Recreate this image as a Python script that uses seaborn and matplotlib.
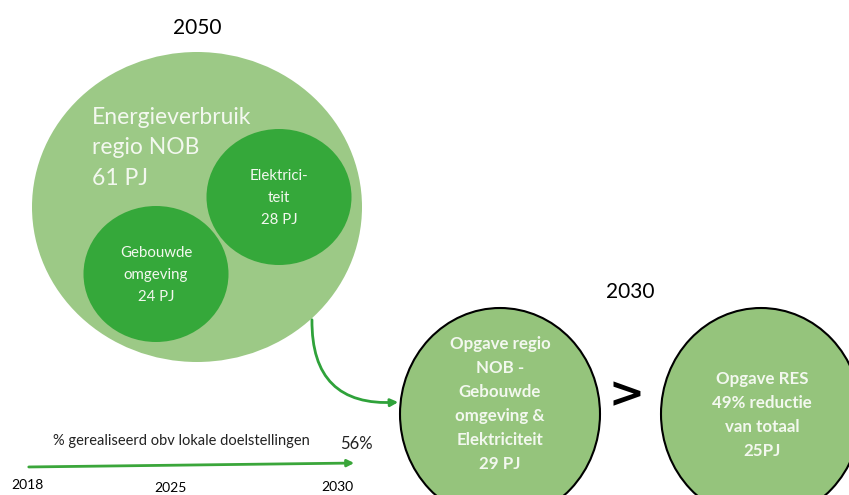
import matplotlib
matplotlib.use("Agg")
import matplotlib.pyplot as plt
from matplotlib.patches import Ellipse, FancyArrowPatch
import seaborn as sns

# ---- data ----
year_future = "2050"
year_target = "2030"
total_label = "Energieverbruik\nregio NOB"
total_pj = 61
sector_labels = ["Elektrici-\nteit", "Gebouwde\nomgeving"]
sector_pj = [28, 24]
opgave_label = "Opgave regio\nNOB -\nGebouwde\nomgeving &\nElektriciteit"
opgave_pj = 29
res_label = "Opgave RES"
res_reductie_pct = 49
res_pj = 25
timeline_title = "% gerealiseerd obv lokale doelstellingen"
realised_pct = 56
timeline_years = [2018, 2025, 2030]

sns.set_theme(style="white")
plt.rcParams['font.family'] = ['Lato', 'DejaVu Sans']

LIGHT = "#9cc986"
DARK = "#35a83a"
MID = "#95c47c"
ARROW = "#2fa23a"
TXT = "#f3f8ef"

fig = plt.figure(figsize=(8.49, 4.95), dpi=100)
ax = fig.add_axes([0, 0, 1, 1])
ax.set_xlim(0, 849)
ax.set_ylim(495, 0)
ax.axis("off")

# 2050 block
ax.text(197, 28, year_future, ha="center", va="center", fontsize=15, color="black")
ax.add_patch(Ellipse((197, 207), 330, 310, facecolor=LIGHT, edgecolor="none"))
sector_pos = [(279, 197), (156, 274)]
for (cx, cy), lab, v in zip(sector_pos, sector_labels, sector_pj):
    ax.add_patch(Ellipse((cx, cy), 145, 136, facecolor=DARK, edgecolor="none"))
    ax.text(cx, cy + 1, f"{lab}\n{v} PJ", ha="center", va="center", fontsize=10.8,
            color=TXT, linespacing=1.75)
ax.text(92, 148, f"{total_label}\n{total_pj} PJ", ha="left", va="center", fontsize=16.5,
        color=TXT, linespacing=1.55)

# curved arrow
ax.add_patch(FancyArrowPatch((312, 317), (401, 402), connectionstyle="arc3,rad=0.55",
                             arrowstyle="-|>", mutation_scale=11, color=ARROW, lw=2))

# 2030 block
ax.text(630, 292, year_target, ha="center", va="center", fontsize=15, color="black")
ax.add_patch(Ellipse((500, 414), 200, 212, facecolor=MID, edgecolor="black", lw=1.5))
ax.add_patch(Ellipse((761, 414), 200, 212, facecolor=MID, edgecolor="black", lw=1.5))
ax.text(500, 404, f"{opgave_label}\n{opgave_pj} PJ", ha="center", va="center", fontsize=12.2,
        fontweight="bold", color=TXT, linespacing=1.62)
ax.text(762, 415, f"{res_label}\n{res_reductie_pct}% reductie\nvan totaal\n{res_pj}PJ",
        ha="center", va="center", fontsize=12.2, fontweight="bold", color=TXT, linespacing=1.62)
ax.text(627, 395, ">", ha="center", va="center", fontsize=31, color="black",
        family="DejaVu Sans", fontweight="bold")

# timeline
ax.text(181, 441, timeline_title, ha="center", va="center", fontsize=10.5, color="#222222")
ax.text(356, 444, f"{realised_pct}%", ha="center", va="center", fontsize=12, color="#222222")
ax.add_patch(FancyArrowPatch((26, 467), (357, 463), arrowstyle="-|>", mutation_scale=10,
                             color="#3aa63a", lw=2))
year_x = [27, 170, 337]
year_y = [485, 488, 487]
for x, y, yr in zip(year_x, year_y, timeline_years):
    ax.text(x, y, str(yr), ha="center", va="center", fontsize=10, color="black")

fig.savefig("out.png", dpi=100)
